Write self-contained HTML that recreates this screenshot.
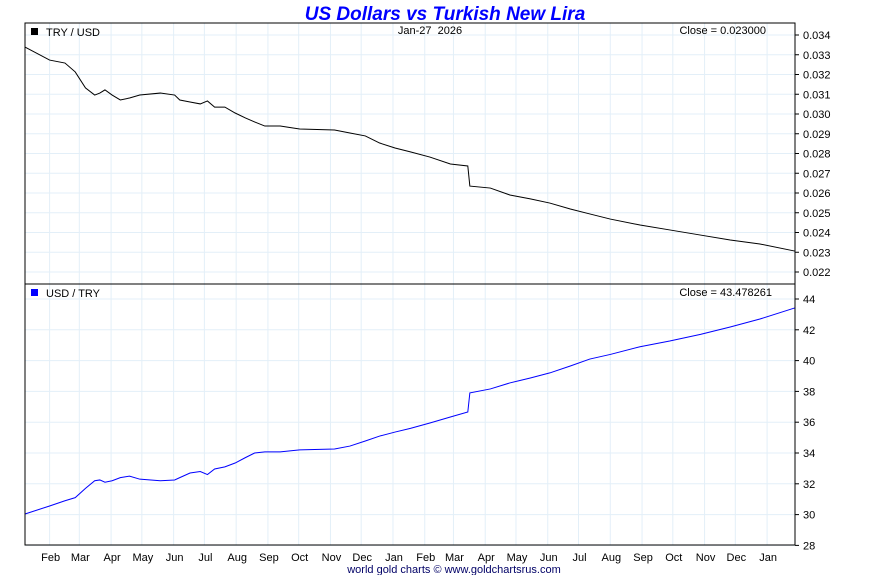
<!DOCTYPE html>
<html><head><meta charset="utf-8"><style>
body{margin:0;background:#fff;font-family:"Liberation Sans",sans-serif}
svg{display:block}
</style></head><body>
<svg id="c" width="890" height="575" font-family="Liberation Sans, sans-serif"></svg>
<script>
const days=[0,24,39,49,59,68,73,78,85,93,102,112,132,146,151,161,171,178,185,195,205,215,224,234,249,268,302,317,332,346,361,376,395,415,432,434,454,473,493,512,532,551,571,600,629,659,688,717,751];
const tryUsd=[.03339,.03273,.03258,.03213,.03132,.03096,.03106,.03122,.03096,.03071,.03081,.03096,.03106,.03096,.03071,.03061,.03051,.03066,.03035,.03035,.03005,.0298,.0296,.02939,.02939,.02924,.02919,.02904,.02889,.02853,.02828,.02808,.02782,.02747,.02737,.02635,.02625,.0259,.0257,.02549,.02519,.02494,.02468,.02438,.02413,.02387,.02362,.02342,.02306];
const usdTry=[30.04,30.56,30.9,31.1,31.7,32.2,32.25,32.1,32.2,32.4,32.5,32.3,32.2,32.25,32.4,32.7,32.8,32.6,32.96,33.1,33.35,33.7,34.0,34.07,34.07,34.2,34.26,34.45,34.78,35.1,35.36,35.6,35.95,36.34,36.66,37.9,38.16,38.55,38.87,39.2,39.65,40.1,40.4,40.9,41.27,41.7,42.18,42.7,43.42];
const monthLabels=["Feb","Mar","Apr","May","Jun","Jul","Aug","Sep","Oct","Nov","Dec","Jan","Feb","Mar","Apr","May","Jun","Jul","Aug","Sep","Oct","Nov","Dec","Jan"];
const monthDays=[24,53,84,114,145,175,206,237,267,298,328,359,390,418,449,479,510,540,571,602,632,663,693,724];
const topTicks=[0.022,0.023,0.024,0.025,0.026,0.027,0.028,0.029,0.030,0.031,0.032,0.033,0.034];
const botTicks=[28,30,32,34,36,38,40,42,44];

const svg=document.getElementById('c');const NS='http://www.w3.org/2000/svg';
function el(t,a,txt){const e=document.createElementNS(NS,t);for(const k in a)e.setAttribute(k,a[k]);if(txt!=null)e.textContent=txt;svg.appendChild(e);return e;}
const X0=25,X1=795;
const xS=d=>X0+d*1.025;
const yT=v=>35+(0.034-v)*19750;
const yB=v=>299+(44-v)*15.4;
monthDays.forEach(d=>{const x=xS(d);
 const g=el('line',{x1:x,x2:x,y1:23,y2:545,stroke:'#e3eff8','stroke-width':1});
 });
topTicks.forEach(v=>{const y=yT(v);
 const g=el('line',{x1:X0,x2:X1,y1:y,y2:y,stroke:'#e3eff8'});
 const tk=el('line',{x1:X1,x2:X1+4,y1:y,y2:y,stroke:'#000'});
 const t=el('text',{x:X1+8,y:y+4,'font-size':11},v.toFixed(3));});
botTicks.forEach(v=>{const y=yB(v);
 const g=el('line',{x1:X0,x2:X1,y1:y,y2:y,stroke:'#e3eff8'});
 const tk=el('line',{x1:X1,x2:X1+4,y1:y,y2:y,stroke:'#000'});
 const t=el('text',{x:X1+8,y:y+4,'font-size':11},String(v));});
monthLabels.forEach((m,i)=>{const t=el('text',{x:xS(monthDays[i])+1,y:561,'font-size':11,'text-anchor':'middle'},m);
 });
const p1=el('polyline',{points:days.map((d,i)=>xS(d)+','+yT(tryUsd[i])).join(' '),fill:'none',stroke:'#000','stroke-width':1});

const p2=el('polyline',{points:days.map((d,i)=>xS(d)+','+yB(usdTry[i])).join(' '),fill:'none',stroke:'#0000ff','stroke-width':1});

const f1=el('rect',{x:X0,y:23,width:X1-X0,height:261,fill:'none',stroke:'#000'});
const f2=el('rect',{x:X0,y:284,width:X1-X0,height:261,fill:'none',stroke:'#000'});
const ti=el('text',{x:445,y:20,'font-size':19,'font-weight':'bold','font-style':'italic',fill:'#0000ff','text-anchor':'middle'},'US Dollars vs Turkish New Lira');

const l1=el('rect',{x:31,y:28,width:7,height:7,fill:'#000'});
const l1t=el('text',{x:46,y:36,'font-size':11},'TRY / USD');
const dt=el('text',{x:430,y:34,'font-size':11,'text-anchor':'middle'},'Jan-27\u00a0 2026');
const c1=el('text',{x:766,y:34,'font-size':11,'text-anchor':'end'},'Close = 0.023000');
const l2=el('rect',{x:31,y:289,width:7,height:7,fill:'#0000ff'});
const l2t=el('text',{x:46,y:297,'font-size':11},'USD / TRY');
const c2=el('text',{x:772,y:296,'font-size':11,'text-anchor':'end'},'Close = 43.478261');
const cr=el('text',{x:454,y:573,'font-size':11,'text-anchor':'middle',fill:'#000066'},'world gold charts © www.goldchartsrus.com');
</script>
</body></html>
